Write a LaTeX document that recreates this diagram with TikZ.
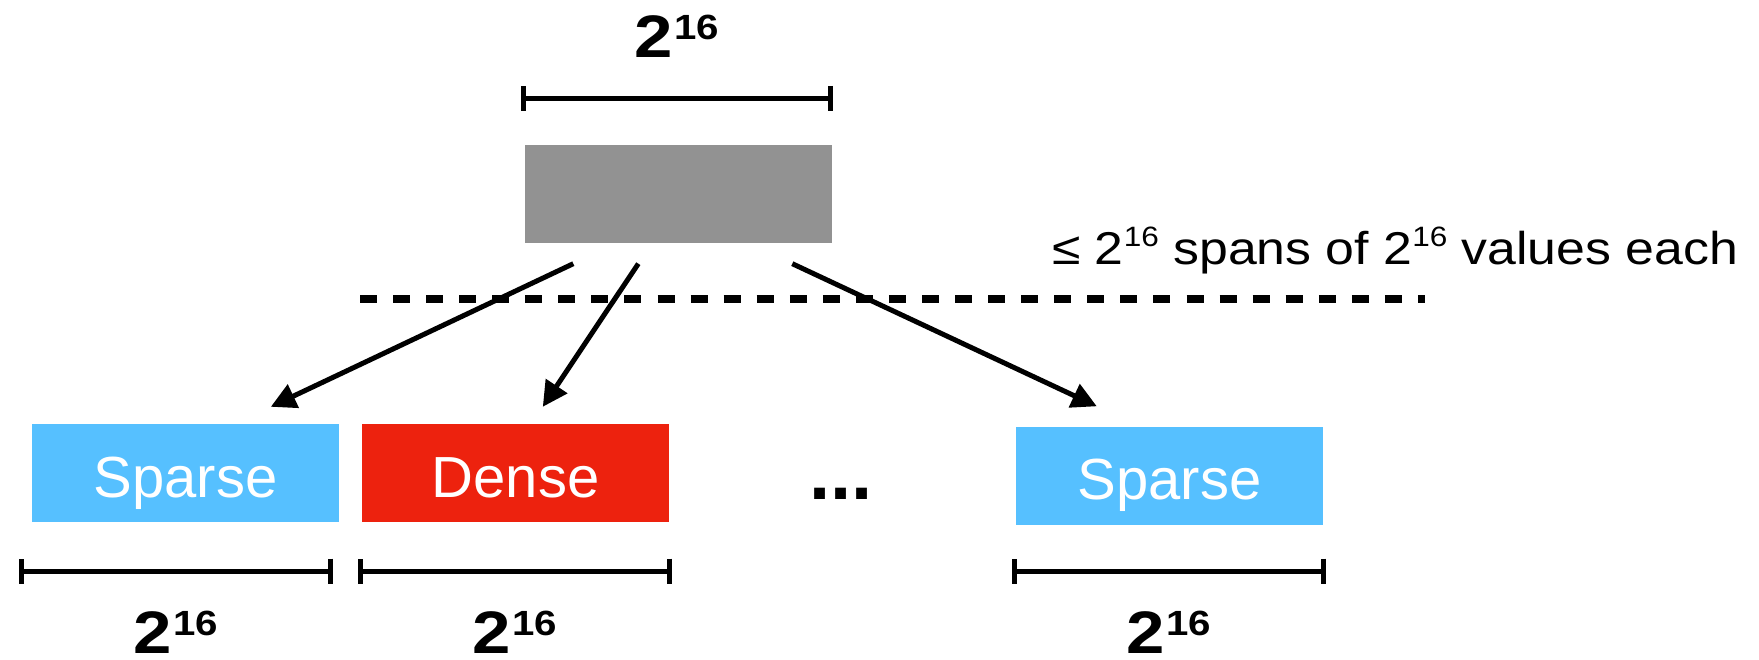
\documentclass[tikz,border=0pt]{standalone}
\usepackage{fontspec}
\setmainfont{Liberation Sans}
\usepackage{graphicx}
\usetikzlibrary{arrows.meta,calc}

\definecolor{sparseblue}{RGB}{86,192,255}
\definecolor{densered}{RGB}{237,34,14}
\definecolor{rootgray}{RGB}{146,146,146}

% bold "2^16" size label
\newcommand{\bigpow}{\scalebox{1.15}[1]{\fontsize{60}{60}\selectfont\bfseries 2\kern1pt\raisebox{18pt}{\fontsize{35}{35}\selectfont 16}}}
% small "2^16" inside running text
\newcommand{\smallpow}{2\raisebox{18pt}{\fontsize{28}{28}\selectfont 16}}

\begin{document}
\begin{tikzpicture}[x=1pt,y=-1pt,
  block/.style={minimum width=307pt,minimum height=98pt,inner sep=0pt,
    text=white,font=\fontsize{58}{58}\selectfont,text height=48pt,text depth=0pt},
  sizebar/.style={line width=5pt,{Bar[width=25pt,line width=5pt]}-{Bar[width=25pt,line width=5pt]}},
  link/.style={line width=5pt,-{Triangle[length=25pt,width=25pt]}},
  powlabel/.style={anchor=base,inner sep=0pt},
  divider/.style={line width=8pt,dash pattern=on 17pt off 16.06pt},
]
\useasboundingbox (0,0) rectangle (1759,660);

% the container and its chunks
\node[block,fill=rootgray] (root) at (678,194.5) {};
\node[block,fill=sparseblue] (sp1) at (185.5,473) {Sparse};
\node[block,fill=densered] (dense) at (515.5,473) {Dense};
\node[block,fill=sparseblue] (sp2) at (1169.5,475.5) {Sparse};
\node[anchor=base,inner sep=0pt,font=\fontsize{76}{76}\selectfont\bfseries] (dots) at (841,499) {...};

% size labels
\node[powlabel] (toplab) at (677,58) {\bigpow};
\node[powlabel] (lab1) at (176,653) {\bigpow};
\node[powlabel] (lab2) at (515,653) {\bigpow};
\node[powlabel] (lab3) at (1169,653) {\bigpow};

% size bars
\coordinate (tb1) at (521,98.5);  \coordinate (tb2) at (833,98.5);
\coordinate (b1a) at (19,571);    \coordinate (b1b) at (333,571);
\coordinate (b2a) at (358,571);   \coordinate (b2b) at (672,571);
\coordinate (b3a) at (1012,571);  \coordinate (b3b) at (1326,571);
\draw[sizebar] (tb1) -- (tb2);
\draw[sizebar] (b1a) -- (b1b);
\draw[sizebar] (b2a) -- (b2b);
\draw[sizebar] (b3a) -- (b3b);

% caption of the divider
\node[anchor=base west,inner sep=0pt,font=\fontsize{46}{46}\selectfont] (caption) at (1052,265)
  {\resizebox{686pt}{\height}{≤ \smallpow\ spans of \smallpow\ values each}};

% divider
\coordinate (dl) at (360,299);
\coordinate (dr) at (1425,299);
\draw[divider] (dl) -- (dr);

% pointers from the container to its chunks
\coordinate (s1) at ($(root.south west)+(49,20)$);
\coordinate (s2) at ($(root.south west)+(114,20)$);
\coordinate (s3) at ($(root.south west)+(268,20)$);
\coordinate (e1) at ($(sp1.north west)+(239,-17)$);
\coordinate (e2) at ($(dense.north west)+(181,-17)$);
\coordinate (e3) at ($(sp2.north west)+(81,-20)$);
\draw[link] (s1) -- (e1);
\draw[link] (s2) -- (e2);
\draw[link] (s3) -- (e3);
\end{tikzpicture}
\end{document}
